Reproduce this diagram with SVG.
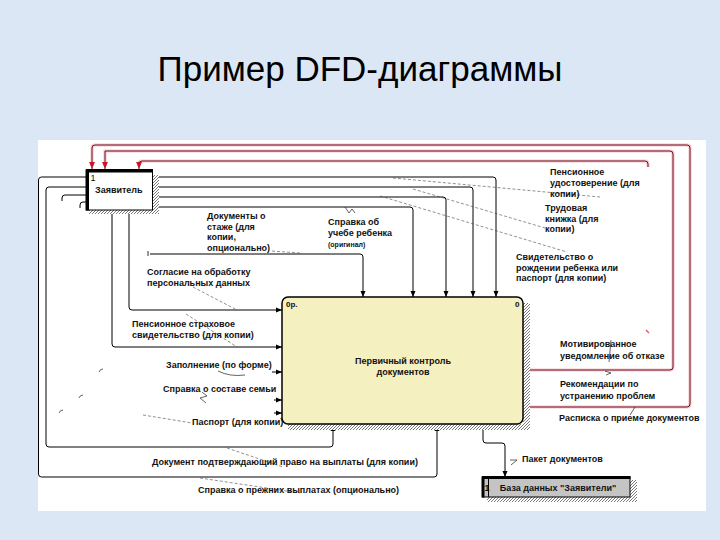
<svg xmlns="http://www.w3.org/2000/svg" width="720" height="540" viewBox="0 0 720 540">
<defs>
<pattern id="hatch" width="3" height="3" patternUnits="userSpaceOnUse"><rect width="3" height="3" fill="#ffffff"/><path d="M0,3 L3,0 M-1,1 L1,-1 M2,4 L4,2" stroke="#6a6a6a" stroke-width="0.9"/></pattern>
<marker id="ab" viewBox="0 0 6 6" refX="6" refY="3" markerWidth="6" markerHeight="6" markerUnits="userSpaceOnUse" orient="auto"><path d="M0,0.5 L6,3 L0,5.5 Z" fill="#000"/></marker>
<marker id="ar" viewBox="0 0 6 6" refX="6" refY="3" markerWidth="7" markerHeight="7" markerUnits="userSpaceOnUse" orient="auto"><path d="M0,0.5 L6,3 L0,5.5 Z" fill="#c81828"/></marker>
</defs>
<style>
.t{font-family:"Liberation Sans",Arial,sans-serif;font-size:9px;font-weight:bold;fill:#111}
.c{text-anchor:middle}
.ln{fill:none;stroke:#000;stroke-width:1}
.rp{fill:none;stroke:#f6c8cf;stroke-width:3.2}
.rd{fill:none;stroke:#6e1420;stroke-width:1}
.ld{fill:none;stroke:#444;stroke-width:0.6;stroke-dasharray:3 2}
.sq{fill:none;stroke:#222;stroke-width:0.7}
</style>
<rect width="720" height="540" fill="#dbe7f4"/>
<rect x="38" y="140" width="668" height="371" fill="#ffffff"/>
<text x="360" y="81" text-anchor="middle" font-family="Liberation Sans, Arial, sans-serif" font-size="35" fill="#000">Пример DFD-диаграммы</text>

<g id="connectors">
<path class="rp" d="M523,407 H687 Q690,407 690,404 V148 Q690,145 687,145 H95 Q92,145 92,148 V166"/>
<path class="rd" d="M523,407 H687 Q690,407 690,404 V148 Q690,145 687,145 H95 Q92,145 92,148 V169" marker-end="url(#ar)"/>
<path class="rp" d="M523,370 H670 Q673,370 673,367 V154 Q673,151 670,151 H105 V166"/>
<path class="rd" d="M523,370 H670 Q673,370 673,367 V154 Q673,151 670,151 H105 V169" marker-end="url(#ar)"/>
<path class="rp" d="M648,167 V164 Q648,161 645,161 H142 Q139,161 139,164 V166"/>
<path class="rd" d="M648,167 V164 Q648,161 645,161 H142 Q139,161 139,164 V169" marker-end="url(#ar)"/>
<path d="M646,330 L649,333" stroke="#e06070" stroke-width="1.5"/>
<path class="ln" d="M153,177 H493 Q496,177 496,180 V297" marker-end="url(#ab)"/>
<path class="ln" d="M153,187 H470 Q473,187 473,190 V297" marker-end="url(#ab)"/>
<path class="ln" d="M153,197 H443 Q446,197 446,200 V297" marker-end="url(#ab)"/>
<path class="ln" d="M153,207 H410 Q413,207 413,210 V297" marker-end="url(#ab)"/>
<path class="ln" d="M150,254 H360 Q363,254 363,257 V297" marker-end="url(#ab)"/>
<path d="M148,251 V256" stroke="#000" stroke-width="0.8"/>
<path class="ln" d="M129,211 V307 Q129,310 132,310 H282" marker-end="url(#ab)"/>
<path class="ln" d="M112,211 V344 Q112,347 115,347 H282" marker-end="url(#ab)"/>
<path class="ln" d="M272,372 H282" marker-end="url(#ab)"/>
<path class="ln" d="M274,400 H282" marker-end="url(#ab)"/>
<path class="ln" d="M274,413 H282" marker-end="url(#ab)"/>
<path class="ln" d="M86,177 H41.5 Q38.5,177 38.5,180 V474 Q38.5,477 41.5,477 H434 Q437,477 437,474 V425" marker-end="url(#ab)"/>
<path class="ln" d="M86,187 H49 Q46,187 46,190 V444 Q46,447 49,447 H330 Q333,447 333,444 V425" marker-end="url(#ab)"/>
<path class="ln" d="M86,195 H65 Q62,195 62,198 V201"/>
<path class="ln" d="M86,202 H83 Q80,202 80,205 V208"/>
<path class="sq" d="M99,372 Q100,369 103,369 M79,398 Q80,395 83,395 M59,413 Q60,410 63,410"/>
<path class="ln" d="M483,425 V440 Q483,443 486,443 H502 Q505,443 505,446 V477" marker-end="url(#ab)"/>
<path class="ld" d="M393,178 L600,197"/>
<path class="ld" d="M413,189 L545,228"/>
<path class="ld" d="M380,196 L567,252"/>
<path class="sq" d="M345,207 L349,213 L352,209 L355,213"/>
<path class="ld" d="M272,251 L300,253"/>
<path class="ld" d="M193,287 L237,310"/>
<path class="ld" d="M186,314 L237,347"/>
<path class="ld" d="M143,415 L192,423"/>
<path class="ld" d="M227,448 L283,467"/>
<path class="ld" d="M200,478 L300,493"/>
<path class="sq" d="M218,371 Q230,377 245,375"/>
<path class="sq" d="M202,392 L207,396 L200,398 L206,403"/>
<path class="sq" d="M611,340 L609,362"/>
<path class="sq" d="M605,371 L611,373 L606,375"/>
<path class="sq" d="M635,407 L630,415"/>
<path class="sq" d="M510,460 H517 L511,465"/>
</g>

<g id="zayavitel">
<rect x="153" y="175" width="6" height="39" fill="url(#hatch)"/>
<rect x="89" y="210" width="70" height="4" fill="url(#hatch)"/>
<rect x="86" y="170" width="66.5" height="40" fill="#fff" stroke="#000" stroke-width="1"/>
<rect x="86" y="169" width="67" height="3.5" fill="#000"/>
<rect x="86" y="169" width="3" height="41.5" fill="#000"/>
<text class="t" x="90.5" y="181" style="font-weight:normal">1</text>
<text class="t" x="95" y="193">Заявитель</text>
</g>

<g id="process">
<rect x="523" y="303" width="7" height="127" fill="url(#hatch)"/>
<rect x="288" y="424" width="242" height="6" fill="url(#hatch)"/>
<rect x="282" y="297" width="241" height="127" rx="6" fill="#f5f0bf" stroke="#000" stroke-width="1.5"/>
<text class="t" x="286" y="307" style="font-size:8px">0р.</text>
<text class="t" x="515" y="307" style="font-size:8px">0</text>
<text class="t c" x="403" y="364">Первичный контроль</text>
<text class="t c" x="403" y="375">документов</text>
</g>

<g id="database">
<rect x="630" y="480" width="7" height="22" fill="url(#hatch)"/>
<rect x="487" y="497" width="150" height="5" fill="url(#hatch)"/>
<rect x="482" y="477" width="148" height="20" fill="#c4c4c4" stroke="#000" stroke-width="1"/>
<rect x="482" y="476" width="148.5" height="3" fill="#000"/>
<rect x="482" y="476" width="2.5" height="21.5" fill="#000"/>
<path d="M488.5,478 V497" stroke="#000" stroke-width="1"/>
<text class="t" x="484.5" y="491">1</text>
<text class="t c" x="558" y="491">База данных "Заявители"</text>
</g>

<g id="labels">
<text class="t" x="207" y="219">Документы о</text>
<text class="t" x="207" y="229.5">стаже (для</text>
<text class="t" x="207" y="240">копии,</text>
<text class="t" x="207" y="250.5">опционально)</text>
<text class="t" x="328" y="225">Справка об</text>
<text class="t" x="328" y="236">учебе ребенка</text>
<text class="t" x="328" y="246.5" style="font-size:7px">(оригинал)</text>
<text class="t" x="147" y="275">Согласие на обработку</text>
<text class="t" x="147" y="286">персональных данных</text>
<text class="t" x="132" y="327">Пенсионное страховое</text>
<text class="t" x="132" y="338">свидетельство (для копии)</text>
<text class="t" x="166" y="368">Заполнение (по форме)</text>
<text class="t" x="163" y="392">Справка о составе семьи</text>
<text class="t" x="192" y="425">Паспорт (для копии)</text>
<text class="t" x="152" y="465">Документ подтверждающий право на выплаты (для копии)</text>
<text class="t" x="198" y="493">Справка о прежних выплатах (опционально)</text>
<text class="t" x="550" y="175">Пенсионное</text>
<text class="t" x="550" y="186">удостоверение (для</text>
<text class="t" x="550" y="196.5">копии)</text>
<text class="t" x="545" y="211">Трудовая</text>
<text class="t" x="545" y="221.5">книжка (для</text>
<text class="t" x="545" y="232">копии)</text>
<text class="t" x="516" y="260">Свидетельство о</text>
<text class="t" x="516" y="270.5">рождении ребенка или</text>
<text class="t" x="516" y="281">паспорт (для копии)</text>
<text class="t" x="560" y="347">Мотивированное</text>
<text class="t" x="560" y="359">уведомление об отказе</text>
<text class="t" x="560" y="387">Рекомендации по</text>
<text class="t" x="560" y="399">устранению проблем</text>
<text class="t" x="559" y="421">Расписка о приеме документов</text>
<text class="t" x="522" y="462">Пакет документов</text>
</g>
</svg>
